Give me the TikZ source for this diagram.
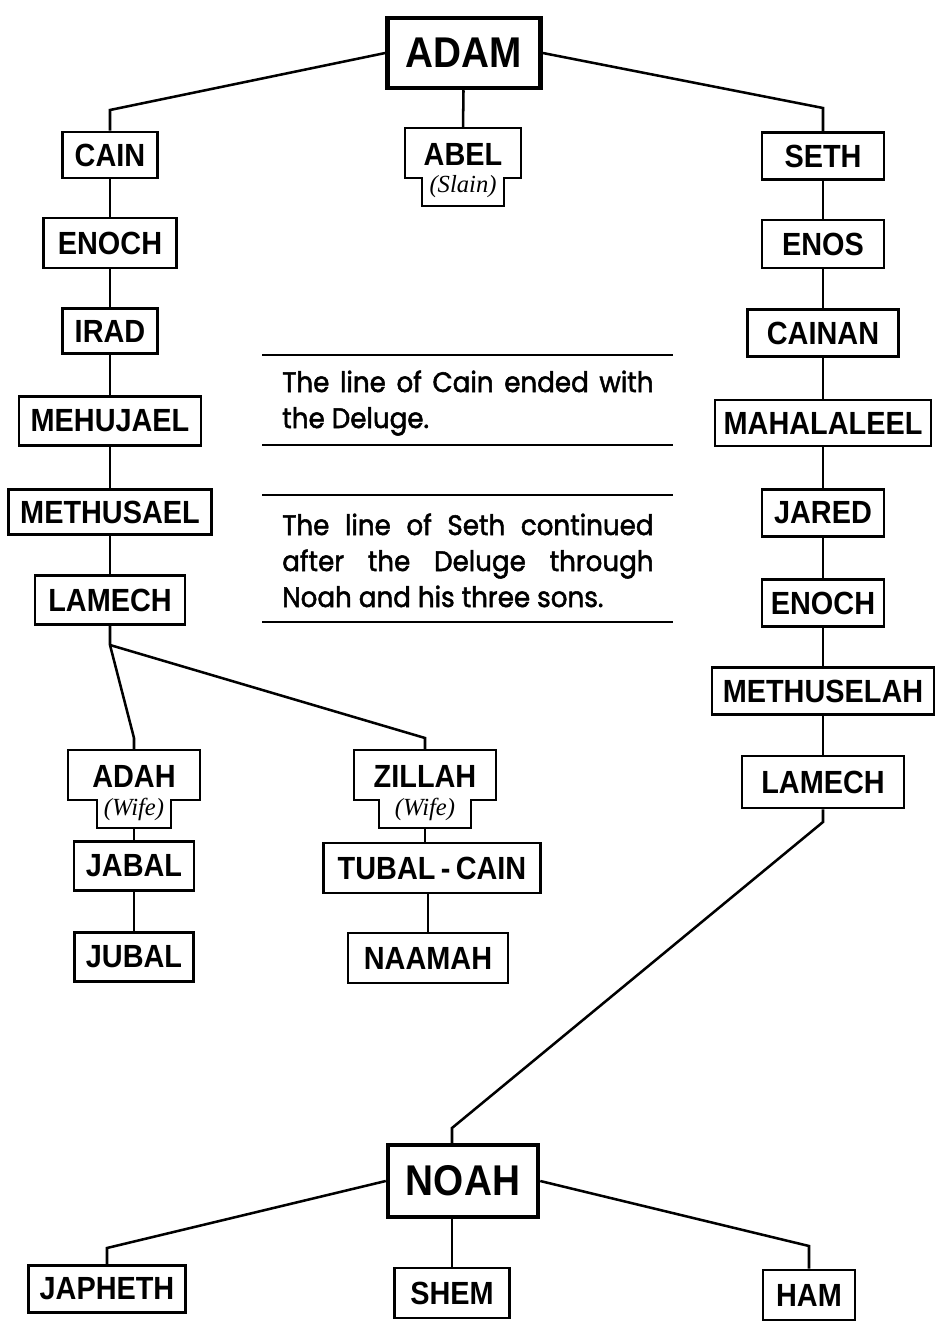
\documentclass[tikz,border=0pt]{standalone}
\usepackage{fontspec}
\newfontfamily\namefont{Liberation Sans}[FakeStretch=0.9]
\newfontfamily\notefont{Poppins}[FakeStretch=0.93, FakeBold=1.8]
\newfontfamily\subfont{Liberation Serif}

% box with a narrower foot: name, x, top y, half width top, half width foot, text, subtext
\newcommand{\notchbox}[7]{%
  \draw[boxline] (#2-#4,#3) -- (#2+#4,#3) -- (#2+#4,#3+50) -- (#2+#5,#3+50)
    -- (#2+#5,#3+78) -- (#2-#5,#3+78) -- (#2-#5,#3+50) -- (#2-#4,#3+50) -- cycle;
  \coordinate (#1) at (#2,#3);
  \coordinate (#1-b) at (#2,#3+78);
  \node[nametext] (#1-t) at (#2,#3+26) {#6};
  \node[subtext] (#1-s) at (#2,#3+59) {#7};}

\begin{document}
\begin{tikzpicture}[x=0.025cm, y=-0.025cm,
    boxline/.style={line width=2.1pt},
    nametext/.style={inner sep=0pt, font={\namefont\bfseries\fontsize{22.8}{24}\selectfont}},
    person/.style 2 args={draw, boxline, nametext, minimum width=#1*0.025cm, minimum height=#2*0.025cm},
    chief/.style 2 args={person={#1}{#2}, line width=3.2pt, font={\namefont\bfseries\fontsize{30.6}{32}\selectfont}},
    subtext/.style={inner sep=0pt, font={\subfont\itshape\fontsize{17.5}{18}\selectfont}},
    link/.style={line width=1.8pt},
    noterule/.style={line width=2pt},
    notetext/.style={inner sep=0pt, align=left, font={\notefont\fontsize{20}{25.6}\selectfont}}]
    \useasboundingbox (0,0) rectangle (948,1332);

    \node[chief={153}{70}] (adam) at (464,53) {ADAM};
    \notchbox{abel}{463}{128}{58}{41}{ABEL}{(Slain)}

    % line of Cain
    \node[person={95}{46}]  (cain)      at (110,155) {CAIN};
    \node[person={133}{50}] (enochC)    at (110,243) {ENOCH};
    \node[person={95}{45}]  (irad)      at (110,331) {IRAD};
    \node[person={182}{49}] (mehujael)  at (110,421) {MEHUJAEL};
    \node[person={203}{45}] (methusael) at (110,512) {METHUSAEL};
    \node[person={150}{49}] (lamechC)   at (110,600) {LAMECH};
    \notchbox{adah}{134}{750}{66}{37}{ADAH}{(Wife)}
    \notchbox{zillah}{425}{750}{71}{46}{ZILLAH}{(Wife)}
    \node[person={120}{49}] (jabal)  at (134,866) {JABAL};
    \node[person={119}{49}] (jubal)  at (134,957) {JUBAL};
    \node[person={217}{50}] (tubal)  at (432,868) {TUBAL\,-\,CAIN};
    \node[person={160}{50}] (naamah) at (428,958) {NAAMAH};

    % line of Seth
    \node[person={122}{47}] (seth)       at (823,156) {SETH};
    \node[person={122}{48}] (enos)       at (823,244) {ENOS};
    \node[person={151}{47}] (cainan)     at (823,333) {CAINAN};
    \node[person={216}{46}] (mahalaleel) at (823,423) {MAHALALEEL};
    \node[person={122}{47}] (jared)      at (823,513) {JARED};
    \node[person={122}{47}] (enochS)     at (823,603) {ENOCH};
    \node[person={222}{47}] (methuselah) at (823,691) {METHUSELAH};
    \node[person={162}{52}] (lamechS)    at (823,782) {LAMECH};

    \node[chief={150}{72}] (noah) at (463,1181) {NOAH};
    \node[person={157}{47}] (japheth) at (107,1289) {JAPHETH};
    \node[person={115}{50}] (shem)    at (452,1293) {SHEM};
    \node[person={92}{50}]  (ham)     at (809,1295) {HAM};

    % knees
    \coordinate (kc) at (110,110);
    \coordinate (ks) at (823,108);
    \coordinate (jl) at (110,645);
    \coordinate (ka) at (134,738);
    \coordinate (kz) at (425,738);
    \coordinate (kl) at (823,822);
    \coordinate (kn) at (452,1128);
    \coordinate (kj) at (107,1248);
    \coordinate (kh) at (809,1246);

    \draw[link] (adam.west) -- (kc) -- (cain);
    \draw[link] (adam.east) -- (ks) -- (seth);
    \draw[link] (adam) -- (abel);
    \foreach \a/\b in {cain/enochC, enochC/irad, irad/mehujael, mehujael/methusael,
        methusael/lamechC, seth/enos, enos/cainan, cainan/mahalaleel, mahalaleel/jared,
        jared/enochS, enochS/methuselah, methuselah/lamechS, jabal/jubal}
      \draw[link] (\a) -- (\b);
    \draw[link] (lamechC) -- (jl) -- (ka) -- (adah);
    \draw[link] (jl) -- (kz) -- (zillah);
    \draw[link] (adah-b) -- (jabal);
    \draw[link] (zillah-b) -- (zillah-b |- tubal.north);
    \draw[link] (naamah |- tubal.south) -- (naamah);
    \draw[link] (lamechS) -- (kl) -- (kn) -- (kn |- noah.north);
    \draw[link] (noah.west) -- (kj) -- (japheth);
    \draw[link] (shem |- noah.south) -- (shem);
    \draw[link] (noah.east) -- (kh) -- (ham);

    % notes
    \draw[noterule] (262,355) -- (673,355);
    \draw[noterule] (262,445) -- (673,445);
    \draw[noterule] (262,495) -- (673,495);
    \draw[noterule] (262,622) -- (673,622);
    \node[notetext, anchor=base west] (cainnote) at (282,428)
      {\makebox[9.28cm][s]{The line of Cain ended with}\\the Deluge.};
    \node[notetext, anchor=base west] (sethnote) at (282,607)
      {\makebox[9.28cm][s]{The line of Seth continued}\\
       \makebox[9.28cm][s]{after the Deluge through}\\Noah and his three sons.};
\end{tikzpicture}
\end{document}
